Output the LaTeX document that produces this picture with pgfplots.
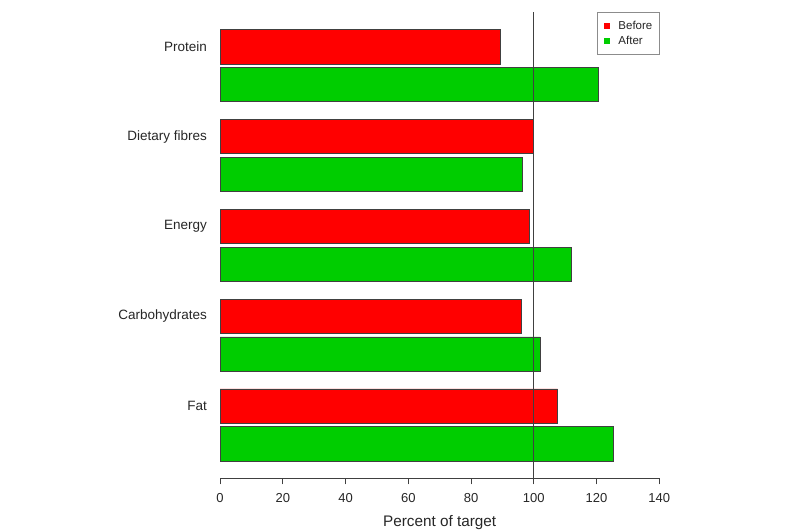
\documentclass[border=0pt]{standalone}
\usepackage{fontspec}
\setmainfont{Liberation Sans}
\usepackage{pgfplots}
\pgfplotsset{compat=1.18}
\usepackage{pgfplotstable}
\definecolor{rred}{HTML}{FF0000}
\definecolor{rgreen}{HTML}{00CD00}
\definecolor{rline}{HTML}{404040}

\pgfplotstableread{
val pos
107.6 72.3
96.1 162.1
98.7 251.9
100.0 341.7
89.4 431.5
}\before
\pgfplotstableread{
val pos
125.3 34.5
102.0 124.3
111.8 214.1
96.3 303.9
120.5 393.7
}\after

\begin{document}
\begin{tikzpicture}[x=1pt,y=1pt]
\useasboundingbox (0,0) rectangle (800,531);
\begin{axis}[
  at={(220pt,52.7pt)}, anchor=south west,
  scale only axis, width=439.3pt, height=466pt,
  xmin=0, xmax=140, ymin=0, ymax=466,
  axis x line*=bottom, axis y line*=left,
  y axis line style={draw=none},
  x axis line style={draw=rline, line width=0.7pt, -},
  xtick={0,20,...,140},
  xtick align=outside,
  major tick length=6pt,
  xtick style={draw=rline, line width=0.7pt},
  ytick={72.3,162.1,251.9,341.7,431.5},
  yticklabels={Fat,Carbohydrates,Energy,Dietary fibres,Protein},
  ytick style={draw=none},
  yticklabel style={font=\fontsize{13.5}{15}\selectfont, text=black!85, xshift=-9.5pt},
  xticklabel style={font=\fontsize{13}{15}\selectfont, text=black!85, yshift=-6pt},
  /pgf/number format/assume math mode=true,
  xlabel={Percent of target},
  xlabel style={font=\fontsize{15.3}{17}\selectfont, text=black!85, at={(rel axis cs:0.5,0)}, anchor=base, yshift=-48pt},
  legend style={at={(1,1)}, anchor=north east, draw=black!45, line width=0.7pt,
    font=\fontsize{11.5}{13}\selectfont, text=black!85, inner xsep=5pt, inner ysep=7pt,
    nodes={inner sep=1.6pt}, row sep=1.5pt, legend cell align=left},
  clip=false,
]
\addlegendimage{legend image code/.code={\path[draw=none,fill=none] (-2pt,-1pt) rectangle (13pt,1pt); \fill[rred] (0pt,-2.6pt) rectangle (5.2pt,2.6pt);}}
\addlegendentry{Before}
\addlegendimage{legend image code/.code={\path[draw=none,fill=none] (-2pt,-1pt) rectangle (13pt,1pt); \fill[rgreen] (0pt,-2.6pt) rectangle (5.2pt,2.6pt);}}
\addlegendentry{After}
\addplot[xbar, bar width=34.4, bar shift=0pt, fill=rred, draw=rline, line width=0.6pt, forget plot] table[x=val, y=pos] {\before};
\addplot[xbar, bar width=34.4, bar shift=0pt, fill=rgreen, draw=rline, line width=0.6pt, forget plot] table[x=val, y=pos] {\after};
\addplot[rline, line width=0.8pt, forget plot] coordinates {(100,0) (100,466)};
\end{axis}
\end{tikzpicture}
\end{document}
